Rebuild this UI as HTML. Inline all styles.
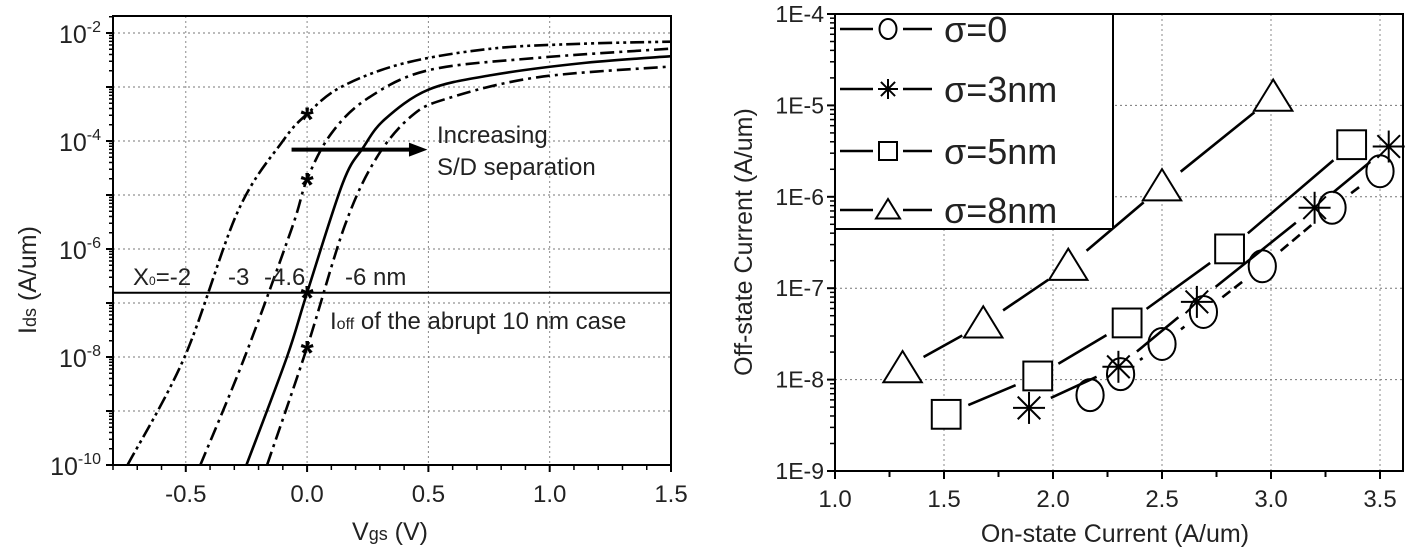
<!DOCTYPE html>
<html><head><meta charset="utf-8">
<style>
html,body{margin:0;padding:0;background:#fff;}
svg{display:block;font-family:"Liberation Sans",sans-serif;}
</style></head>
<body>
<svg id="chart" width="1412" height="553" viewBox="0 0 1412 553" xmlns="http://www.w3.org/2000/svg">
<g id="left"></g>
<g id="right"></g>
</svg>
<script>
// ---- Left chart data ----
const leftXTicks = [-0.5, 0.0, 0.5, 1.0, 1.5];
const leftXTickLabels = ["-0.5", "0.0", "0.5", "1.0", "1.5"];
const leftYDecades = [-2, -4, -6, -8, -10];
const curveNames = ["x0-2", "x0-3", "x0-4.6", "x0-6"];
const curveA_V = [-0.74, -0.505, -0.285, -0.10, 0, 0.14, 0.40, 0.76, 1.13, 1.5];
const curveA_logI = [-10, -8, -5.3, -4, -3.5, -3.0, -2.56, -2.29, -2.2, -2.16];
const curveB_V = [-0.44, -0.257, -0.064, 0, 0.10, 0.25, 0.5, 0.95, 1.5];
const curveB_logI = [-10, -8, -5.63, -4.71, -3.86, -3.21, -2.69, -2.46, -2.29];
const curveC_V = [-0.25, -0.083, 0, 0.147, 0.23, 0.32, 0.5, 0.76, 1.13, 1.5];
const curveC_logI = [-10, -8, -6.81, -4.78, -4.13, -3.6, -3.05, -2.78, -2.56, -2.43];
const curveD_V = [-0.165, 0, 0.156, 0.285, 0.43, 0.58, 0.95, 1.5];
const curveD_logI = [-10, -7.82, -5.56, -4.32, -3.54, -3.21, -2.82, -2.62];
const starLogI = [-3.5, -4.71, -6.81, -7.82];
const abruptIoffLog = -6.81;

// ---- Right chart data ----
const rightXTicks = [1.0, 1.5, 2.0, 2.5, 3.0, 3.5];
const rightXTickLabels = ["1.0", "1.5", "2.0", "2.5", "3.0", "3.5"];
const rightYDecades = [-4, -5, -6, -7, -8, -9];
const rightYTickLabels = ["1E-4", "1E-5", "1E-6", "1E-7", "1E-8", "1E-9"];
const seriesLabels = ["σ=0", "σ=3nm", "σ=5nm", "σ=8nm"];
const s0_on = [2.17, 2.31, 2.5, 2.69, 2.96, 3.28, 3.5];
const s0_off = [-8.17, -7.94, -7.61, -7.26, -6.76, -6.12, -5.72];
const s3_on = [1.89, 2.30, 2.66, 3.20, 3.54];
const s3_off = [-8.31, -7.86, -7.15, -6.12, -5.45];
const s5_on = [1.51, 1.93, 2.34, 2.81, 3.37];
const s5_off = [-8.38, -7.96, -7.38, -6.57, -5.43];
const s8_on = [1.31, 1.68, 2.07, 2.5, 3.01];
const s8_off = [-7.88, -7.39, -6.76, -5.89, -4.91];

const NS = "http://www.w3.org/2000/svg";
function mk(parent, tag, attrs, text){
  const e = document.createElementNS(NS, tag);
  for (const k in attrs) e.setAttribute(k, attrs[k]);
  if (text !== undefined) e.textContent = text;
  parent.appendChild(e);
  return e;
}
function smoothPath(pts){
  let d = "M" + pts[0][0] + "," + pts[0][1];
  for (let i = 0; i < pts.length - 1; i++){
    const p0 = pts[i-1] || pts[i], p1 = pts[i], p2 = pts[i+1], p3 = pts[i+2] || p2;
    const c1x = p1[0] + (p2[0]-p0[0])/6, c1y = p1[1] + (p2[1]-p0[1])/6;
    const c2x = p2[0] - (p3[0]-p1[0])/6, c2y = p2[1] - (p3[1]-p1[1])/6;
    d += " C" + c1x + "," + c1y + " " + c2x + "," + c2y + " " + p2[0] + "," + p2[1];
  }
  return d;
}

// ================= LEFT =================
const L = document.getElementById("left");
const lx0 = 113, lx1 = 671, ly0 = 16, ly1 = 465;
const lxMin = -0.8, lxMax = 1.5;
function lx(v){ return lx0 + (v - lxMin) / (lxMax - lxMin) * (lx1 - lx0); }
function ly(l){ return 33 + (-2 - l) * 54; }

for (let d = -2; d >= -9; d--){
  const g = mk(L, "line", {x1: lx0, x2: lx1, y1: ly(d), y2: ly(d), stroke: "#777", "stroke-width": 1, "stroke-dasharray": "2,3"});
  
  
}
for (const v of leftXTicks){
  if (v >= lxMax) continue;
  const g = mk(L, "line", {x1: lx(v), x2: lx(v), y1: ly0, y2: ly1, stroke: "#888", "stroke-width": 1, "stroke-dasharray": "2,3"});
  
  
}
for (let d = -2; d >= -10; d--){
  const t = mk(L, "line", {x1: lx0 - 7, x2: lx0, y1: ly(d), y2: ly(d), stroke: "#000", "stroke-width": 2});
  
  
  if (d > -10) for (let m = 2; m <= 9; m++){
    const yy = ly(d - 1 + Math.log10(m));
    const mt = mk(L, "line", {x1: lx0 - 4, x2: lx0, y1: yy, y2: yy, stroke: "#000", "stroke-width": 1.5});
    
    
  }
}
for (let k = 0; k < 9; k++){
  const yy = ly(-2 + Math.log10(k + 2));
  if (yy < ly0) break;
  mk(L, "line", {x1: lx0 - 4, x2: lx0, y1: yy, y2: yy, stroke: "#000", "stroke-width": 1.5});
}
for (const d of leftYDecades){
  const t = mk(L, "text", {x: lx0 - 12, y: ly(d) + 10, "text-anchor": "end", "font-size": 25, fill: "#222"});
  
  
  mk(t, "tspan", {}, "10");
  mk(t, "tspan", {dy: -11, "font-size": 16}, String(d));
}
for (let i = -8; i <= 15; i++){
  const v = i / 10;
  const major = (i % 5 === 0);
  const t = mk(L, "line", {x1: lx(v), x2: lx(v), y1: ly1, y2: ly1 + (major ? 7 : 5), stroke: "#000", "stroke-width": major ? 2 : 1.5});
  
  
}
leftXTicks.forEach((v, i) => {
  const t = mk(L, "text", {x: lx(v), y: 502, "text-anchor": "middle", "font-size": 24, fill: "#222"}, leftXTickLabels[i]);
  
  
});
const lf = mk(L, "rect", {x: lx0, y: ly0, width: lx1 - lx0, height: ly1 - ly0, fill: "none", stroke: "#000", "stroke-width": 2});


const lyt = mk(L, "text", {x: 0, y: 0, transform: "translate(36,280) rotate(-90)", "text-anchor": "middle", "font-size": 25, fill: "#222"});


mk(lyt, "tspan", {}, "I");
mk(lyt, "tspan", {"font-size": 18}, "ds");
mk(lyt, "tspan", {}, " (A/um)");
const lxt = mk(L, "text", {x: 390, y: 540, "text-anchor": "middle", "font-size": 25, fill: "#222"});


mk(lxt, "tspan", {}, "V");
mk(lxt, "tspan", {"font-size": 18}, "gs");
mk(lxt, "tspan", {}, " (V)");

const clip = mk(L, "clipPath", {id: "lclip"});
mk(clip, "rect", {x: lx0, y: ly0, width: lx1 - lx0, height: ly1 - ly0});
const curves = [[curveA_V, curveA_logI, "14,4,3,4,3,4"], [curveB_V, curveB_logI, "14,5,3,5"], [curveC_V, curveC_logI, ""], [curveD_V, curveD_logI, "14,5,3,5"]];
curves.forEach((c, i) => {
  const pts = c[0].map((v, j) => [lx(v), ly(c[1][j])]);
  const p = mk(L, "path", {d: smoothPath(pts), fill: "none", stroke: "#000", "stroke-width": 2.6, "clip-path": "url(#lclip)"});
  if (c[2]) p.setAttribute("stroke-dasharray", c[2]);
  
  
});
starLogI.forEach(l => {
  const cx = lx(0), cy = ly(l);
  const s = mk(L, "text", {x: cx, y: cy + 17, "text-anchor": "middle", "font-size": 34, "font-weight": "bold", fill: "#000"}, "*");
  
  
});
const hl = mk(L, "line", {x1: lx0, x2: lx1, y1: ly(abruptIoffLog), y2: ly(abruptIoffLog), stroke: "#000", "stroke-width": 2});


const ay = ly(-4.16);
const ar = mk(L, "line", {x1: lx(-0.064), x2: lx(0.43), y1: ay, y2: ay, stroke: "#000", "stroke-width": 4});


const ah = mk(L, "polygon", {points: (lx(0.496)) + "," + ay + " " + (lx(0.42)) + "," + (ay - 7) + " " + (lx(0.42)) + "," + (ay + 7), fill: "#000"});


const t1 = mk(L, "text", {x: 437, y: 143, "font-size": 24, fill: "#222"}, "Increasing");


const t2 = mk(L, "text", {x: 437, y: 175, "font-size": 24, fill: "#222"}, "S/D separation");


const t3 = mk(L, "text", {x: 133, y: 285, "font-size": 24, fill: "#222"});


mk(t3, "tspan", {}, "X");
mk(t3, "tspan", {"font-size": 12}, "0");
mk(t3, "tspan", {}, "=-2");
mk(t3, "tspan", {x: 228}, "-3");
mk(t3, "tspan", {x: 264}, "-4.6");
mk(t3, "tspan", {x: 345}, "-6 nm");
const t4 = mk(L, "text", {x: 330, y: 329, "font-size": 24, fill: "#222"});


mk(t4, "tspan", {}, "I");
mk(t4, "tspan", {"font-size": 16}, "off");
mk(t4, "tspan", {}, " of the abrupt 10 nm case");

// ================= RIGHT =================
const R = document.getElementById("right");
const rx0 = 835, rx1 = 1403, ry0 = 14, ry1 = 471;
function rx(v){ return rx0 + (v - 1.0) * 218; }
function ry(l){ return 14 + (-4 - l) * 91.4; }
for (const d of rightYDecades.slice(1, 5)){
  const g = mk(R, "line", {x1: rx0, x2: rx1, y1: ry(d), y2: ry(d), stroke: "#777", "stroke-width": 1, "stroke-dasharray": "2,3"});
  
  
}
for (const v of rightXTicks.slice(1)){
  const g = mk(R, "line", {x1: rx(v), x2: rx(v), y1: ry0, y2: ry1, stroke: "#888", "stroke-width": 1, "stroke-dasharray": "2,3"});
  
  
}
rightYDecades.forEach((d, i) => {
  const t = mk(R, "line", {x1: rx0 - 8, x2: rx0, y1: ry(d), y2: ry(d), stroke: "#000", "stroke-width": 2});
  
  
  if (d > -9) for (let m = 2; m <= 9; m++){
    const yy = ry(d - 1 + Math.log10(m));
    const mt = mk(R, "line", {x1: rx0 - 5, x2: rx0, y1: yy, y2: yy, stroke: "#000", "stroke-width": 1.5});
    
    
  }
  const lb = mk(R, "text", {x: rx0 - 11, y: ry(d) + 8, "text-anchor": "end", "font-size": 23, fill: "#222"}, rightYTickLabels[i]);
  
  
});
for (let i = 0; i <= 10; i++){
  const v = 1 + i * 0.25;
  const major = (i % 2 === 0);
  const t = mk(R, "line", {x1: rx(v), x2: rx(v), y1: ry1, y2: ry1 + (major ? 8 : 6), stroke: "#000", "stroke-width": 2});
  
  
}
rightXTicks.forEach((v, i) => {
  const t = mk(R, "text", {x: rx(v), y: 507, "text-anchor": "middle", "font-size": 24, fill: "#222"}, rightXTickLabels[i]);
  
  
});
const rf = mk(R, "rect", {x: rx0, y: ry0, width: rx1 - rx0, height: ry1 - ry0, fill: "none", stroke: "#000", "stroke-width": 2});


const ryt = mk(R, "text", {x: 0, y: 0, transform: "translate(752,242) rotate(-90)", "text-anchor": "middle", "font-size": 25, fill: "#222"}, "Off-state Current (A/um)");


const rxt = mk(R, "text", {x: 1115, y: 542, "text-anchor": "middle", "font-size": 25, fill: "#222"}, "On-state Current (A/um)");



function marker(g, kind, cx, cy, r){
  if (kind === 0) return mk(g, "ellipse", {cx: cx, cy: cy, rx: r * 0.85, ry: r, fill: "#fff", stroke: "#000", "stroke-width": 2});
  if (kind === 1){
    const s = mk(g, "g", {stroke: "#000", "stroke-width": 2});
    for (let k = 0; k < 4; k++){
      const a = k * Math.PI / 4;
      mk(s, "line", {x1: cx - r * Math.cos(a), y1: cy - r * Math.sin(a), x2: cx + r * Math.cos(a), y2: cy + r * Math.sin(a)});
    }
    return s;
  }
  if (kind === 2) return mk(g, "rect", {x: cx - r * 0.9, y: cy - r * 0.9, width: r * 1.8, height: r * 1.8, fill: "#fff", stroke: "#000", "stroke-width": 2});
  return mk(g, "polygon", {points: cx + "," + (cy - r * 1.1) + " " + (cx + r * 1.2) + "," + (cy + r * 0.85) + " " + (cx - r * 1.2) + "," + (cy + r * 0.85), fill: "#fff", stroke: "#000", "stroke-width": 2});
}
const rclip = mk(R, "clipPath", {id: "rclip"});
mk(rclip, "rect", {x: rx0, y: ry0, width: rx1 - rx0 + 12, height: ry1 - ry0});
const series = [[s0_on, s0_off, "10,5"], [s3_on, s3_off, ""], [s5_on, s5_off, ""], [s8_on, s8_off, ""]];
const names = ["sigma-0", "sigma-3nm", "sigma-5nm", "sigma-8nm"];
series.forEach((s, si) => {
  const g = mk(R, "g", {"clip-path": "url(#rclip)"});
  
  
  const pts = s[0].map((v, j) => [rx(v), ry(s[1][j])]);
  for (let j = 0; j < pts.length - 1; j++){
    const [ax, ay2] = pts[j], [bx, by] = pts[j + 1];
    const len = Math.hypot(bx - ax, by - ay2), gap = 24;
    if (len <= 2 * gap) continue;
    const ux = (bx - ax) / len, uy = (by - ay2) / len;
    const ln = mk(g, "line", {x1: ax + ux * gap, y1: ay2 + uy * gap, x2: bx - ux * gap, y2: by - uy * gap, stroke: "#000", "stroke-width": 2.6});
    if (s[2]) ln.setAttribute("stroke-dasharray", s[2]);
    
    
  }
  pts.forEach(p => {
    const m = marker(g, si, p[0], p[1], 16);
    
    
  });
});
const lg = mk(R, "g", {});


mk(lg, "rect", {x: rx0, y: ry0, width: 1113 - rx0, height: 229 - ry0, fill: "#fff", stroke: "none"});
mk(lg, "line", {x1: 1113, y1: ry0, x2: 1113, y2: 229, stroke: "#000", "stroke-width": 2});
mk(lg, "line", {x1: rx0, y1: 229, x2: 1113, y2: 229, stroke: "#000", "stroke-width": 2});
mk(lg, "line", {x1: rx0, y1: ry0, x2: rx0, y2: 229, stroke: "#000", "stroke-width": 2});
mk(lg, "line", {x1: rx0, y1: ry0, x2: 1113, y2: ry0, stroke: "#000", "stroke-width": 2});
const legY = [29, 89, 151, 210];
seriesLabels.forEach((lab, i) => {
  const e = mk(lg, "g", {});
  
  
  mk(e, "line", {x1: 840, x2: 873, y1: legY[i], y2: legY[i], stroke: "#000", "stroke-width": 2.6});
  mk(e, "line", {x1: 903, x2: 932, y1: legY[i], y2: legY[i], stroke: "#000", "stroke-width": 2.6});
  marker(e, i, 888, legY[i], 10);
  mk(e, "text", {x: 944, y: legY[i] + 13, "font-size": 36, fill: "#222"}, lab);
});
</script>
</body></html>
